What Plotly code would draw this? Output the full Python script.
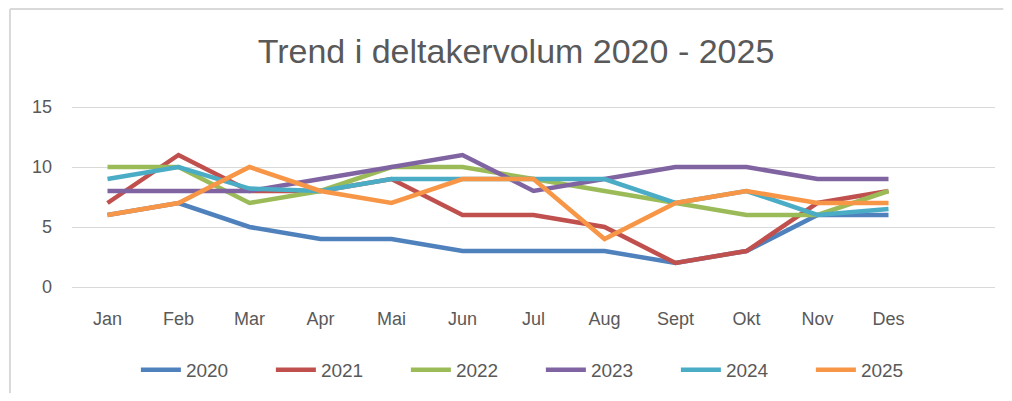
import plotly.graph_objects as go

months = ["Jan", "Feb", "Mar", "Apr", "Mai", "Jun", "Jul", "Aug", "Sept", "Okt", "Nov", "Des"]
y2020 = [6, 7, 5, 4, 4, 3, 3, 3, 2, 3, 6, 6]
y2021 = [7, 11, 8, 8, 9, 6, 6, 5, 2, 3, 7, 8]
y2022 = [10, 10, 7, 8, 10, 10, 9, 8, 7, 6, 6, 8]
y2023 = [8, 8, 8, 9, 10, 11, 8, 9, 10, 10, 9, 9]
y2024 = [9, 10, 8.2, 8, 9, 9, 9, 9, 7, 8, 6, 6.5]
y2025 = [6, 7, 10, 8, 7, 9, 9, 4, 7, 8, 7, 7]

series = [
    ("2020", y2020, "#4F81BD"),
    ("2021", y2021, "#C0504D"),
    ("2022", y2022, "#9BBB59"),
    ("2023", y2023, "#8064A2"),
    ("2024", y2024, "#4BACC6"),
    ("2025", y2025, "#F79646"),
]

x_idx = list(range(len(months)))

fig = go.Figure()
for name, vals, color in series:
    fig.add_trace(go.Scatter(
        x=x_idx, y=vals, name=name, mode="lines",
        line=dict(color=color, width=4.5),
    ))

# page body adds an 8px margin on every side, so keep the figure inside the window
fig.update_layout(
    width=996,
    height=385,
    paper_bgcolor="white",
    plot_bgcolor="white",
    font=dict(family="Liberation Sans", color="#595959", size=18),
    title=dict(
        text="Trend i deltakervolum 2020 - 2025",
        x=508 / 996, xref="container", xanchor="center",
        y=1 - 43 / 385, yref="container", yanchor="middle",
        font=dict(size=34, color="#595959"),
    ),
    margin=dict(l=64, r=9, t=96, b=103, autoexpand=False),
    showlegend=True,
    legend=dict(
        orientation="h",
        x=0.508, xanchor="center",
        y=1 - 362 / 385, yref="container", yanchor="middle",
        font=dict(size=19, color="#595959"),
        entrywidth=80,
        itemwidth=40,
    ),
)

fig.update_xaxes(
    range=[-0.5, 12.5],
    tickmode="array",
    tickvals=x_idx,
    ticktext=months,
    showgrid=False,
    zeroline=False,
    showline=False,
    ticks="",
    ticklabelstandoff=16,
)
fig.update_yaxes(
    range=[-0.25, 15.25],
    tickvals=[0, 5, 10, 15],
    showgrid=True,
    gridcolor="#D9D9D9",
    gridwidth=1,
    zeroline=False,
    showline=False,
    ticks="",
    ticklabelstandoff=19,
)

# chart area border (top and left edges visible in the reference)
fig.add_shape(type="line", xref="paper", yref="paper",
              x0=-0.0672, x1=1.009, y0=1.511, y1=1.511,
              line=dict(color="#D9D9D9", width=2))
fig.add_shape(type="line", xref="paper", yref="paper",
              x0=-0.0672, x1=-0.0672, y0=-0.6, y1=1.511,
              line=dict(color="#D9D9D9", width=2))

fig.write_html("out.html")
